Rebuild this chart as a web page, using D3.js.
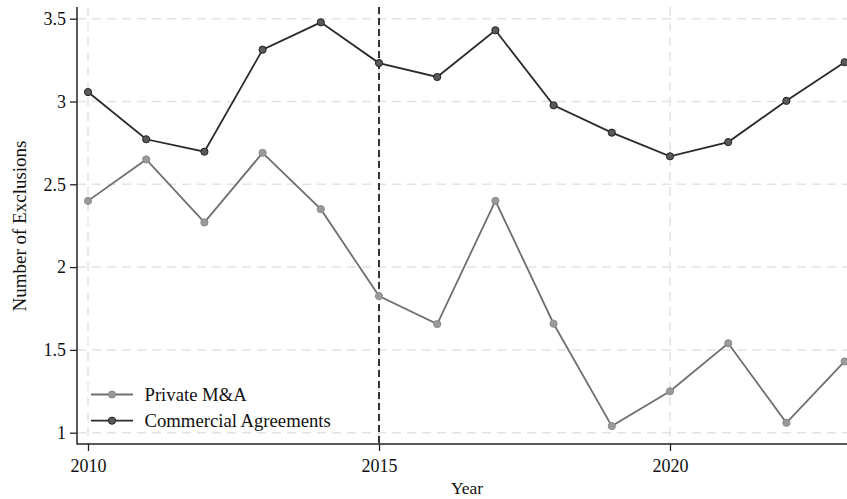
<!DOCTYPE html>
<html>
<head>
<meta charset="utf-8">
<script src="https://cdn.jsdelivr.net/npm/d3@7"></script>
<style>
  html, body { margin: 0; padding: 0; background: #fff; }
  svg { display: block; font-family: "Liberation Serif", "Times New Roman", serif; }
</style>
</head>
<body>
<svg id="chart" width="847" height="499"></svg>
<script>
// Yearly average number of exclusions by agreement type
const years = [2010, 2011, 2012, 2013, 2014, 2015, 2016, 2017, 2018, 2019, 2020, 2021, 2022, 2023];
const privateMA = [2.40, 2.65, 2.27, 2.69, 2.35, 1.825, 1.656, 2.40, 1.658, 1.04, 1.25, 1.54, 1.06, 1.43];
const commercial = [3.057, 2.772, 2.697, 3.313, 3.478, 3.232, 3.148, 3.43, 2.977, 2.812, 2.669, 2.755, 3.004, 3.237];
const yTicks = [1, 1.5, 2, 2.5, 3, 3.5];
const yTickLabels = ["1", "1.5", "2", "2.5", "3", "3.5"];
const xTicks = [2010, 2015, 2020];
const seriesNames = ["Private M&A", "Commercial Agreements"];
const markerYear = 2015;

const svg = d3.select("#chart");
const W = 847, H = 499;
const axisX = 77, axisY = 444, topY = 7;

const x = d3.scaleLinear().domain([2010, 2015]).range([88, 379]);
const y = d3.scaleLinear().domain([1, 3.5]).range([432.7, 18.7]);

// grid
const grid = svg.append("g");
grid.selectAll("line.h").data(yTicks).join("line")
  .attr("x1", axisX).attr("x2", W)
  .attr("y1", d => y(d)).attr("y2", d => y(d))
  .attr("stroke", "#e3e3e3").attr("stroke-width", 1.5).attr("stroke-dasharray", "9,6");
grid.selectAll("line.v").data(xTicks).join("line")
  .attr("x1", d => x(d)).attr("x2", d => x(d))
  .attr("y1", topY).attr("y2", axisY)
  .attr("stroke", "#e3e3e3").attr("stroke-width", 1.5).attr("stroke-dasharray", "9,6");

// reference line
svg.append("line")
  .attr("x1", x(markerYear)).attr("x2", x(markerYear))
  .attr("y1", topY).attr("y2", axisY)
  .attr("stroke", "#333").attr("stroke-width", 2).attr("stroke-dasharray", "7,4");

// axes
const yAxis = d3.axisLeft(y).tickValues(yTicks).tickFormat((d, i) => yTickLabels[i]).tickSize(7).tickPadding(4);
const gy = svg.append("g").attr("transform", `translate(${axisX},0)`).call(yAxis);
gy.select(".domain").remove();
gy.append("line").attr("x1", 0).attr("x2", 0).attr("y1", topY).attr("y2", axisY + 0.5)
  .attr("stroke", "#222").attr("stroke-width", 1.5);

const xAxis = d3.axisBottom(x).tickValues(xTicks).tickFormat(d3.format("d")).tickSize(7).tickPadding(8);
const gx = svg.append("g").attr("transform", `translate(0,${axisY})`).call(xAxis);
gx.select(".domain").remove();
gx.append("line").attr("x1", axisX).attr("x2", W).attr("y1", 0).attr("y2", 0)
  .attr("stroke", "#222").attr("stroke-width", 1.5);

[gx, gy].forEach(g => {
  g.selectAll(".tick line").attr("stroke", "#222").attr("stroke-width", 1.3);
  g.selectAll(".tick text").attr("fill", "#111").style("font-size", "18px")
    .style("font-family", "'Liberation Serif', serif");
});

// axis titles
svg.append("text").attr("x", 467).attr("y", 494).attr("text-anchor", "middle")
  .style("font-size", "17.5px").attr("fill", "#111").text("Year");
svg.append("text").attr("transform", `translate(26,226) rotate(-90)`).attr("text-anchor", "middle")
  .style("font-size", "19px").attr("fill", "#111").text("Number of Exclusions");

// series
const styles = [
  { data: privateMA, line: "#6f6f6f", fill: "#9a9a9a", stroke: "#8a8a8a" },
  { data: commercial, line: "#2a2a2a", fill: "#5a5a5a", stroke: "#222" }
];
const line = d3.line().x((d, i) => x(years[i])).y(d => y(d));
styles.forEach(s => {
  svg.append("path").datum(s.data).attr("d", line)
    .attr("fill", "none").attr("stroke", s.line).attr("stroke-width", 1.8);
  svg.append("g").selectAll("circle").data(s.data).join("circle")
    .attr("cx", (d, i) => x(years[i])).attr("cy", d => y(d)).attr("r", 3.6)
    .attr("fill", s.fill).attr("stroke", s.stroke).attr("stroke-width", 1);
});

// legend
const legend = svg.append("g");
const legY = [394.5, 420.7];
styles.forEach((s, i) => {
  legend.append("line").attr("x1", 91).attr("x2", 133).attr("y1", legY[i]).attr("y2", legY[i])
    .attr("stroke", s.line).attr("stroke-width", 1.8);
  legend.append("circle").attr("cx", 112).attr("cy", legY[i]).attr("r", 3.6)
    .attr("fill", s.fill).attr("stroke", s.stroke).attr("stroke-width", 1);
  legend.append("text").attr("x", 144.5).attr("y", legY[i] + 6)
    .style("font-size", "18.7px").attr("fill", "#111").text(seriesNames[i]);
});
</script>
</body>
</html>
